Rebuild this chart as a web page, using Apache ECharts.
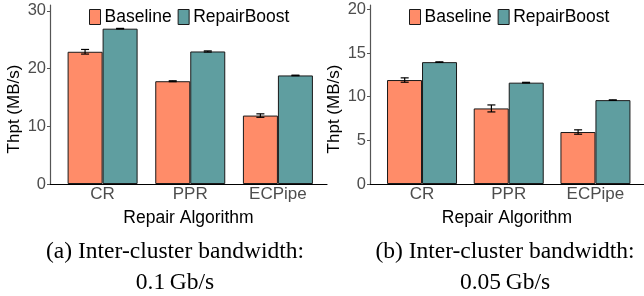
<!DOCTYPE html>
<html>
<head>
<meta charset="utf-8">
<script src="https://cdn.jsdelivr.net/npm/echarts@6/dist/echarts.min.js"></script>
<style>
  html, body { margin: 0; padding: 0; background: #fff; }
  #chart { width: 644px; height: 296px; }
</style>
</head>
<body>
<div id="chart"></div>
<script>
const categories = ['CR', 'PPR', 'ECPipe']
const seriesNames = ['Baseline', 'RepairBoost']

// (a) 0.1 Gb/s
const baselineA = [22.9, 17.8, 11.85]
const baselineAErr = [0.4, 0.08, 0.3]
const boostA = [26.9, 22.95, 18.8]
const boostAErr = [0.05, 0.1, 0.05]
const ticksA = [0, 10, 20, 30]

// (b) 0.05 Gb/s
const baselineB = [11.9, 8.65, 5.95]
const baselineBErr = [0.25, 0.4, 0.25]
const boostB = [13.95, 11.6, 9.6]
const boostBErr = [0.03, 0.04, 0.03]
const ticksB = [0, 5, 10, 15, 20]

const captions = ['(a) Inter-cluster bandwidth:\n0.1\u2009Gb/s', '(b) Inter-cluster bandwidth:\n0.05\u2009Gb/s']

const colors = ['#FF8C69', '#5F9EA0']
const sans = '"Liberation Sans", Arial, sans-serif'

const toPoints = vals => vals.map((v, i) => [i + 1, v])
const toErr = (vals, errs) => vals.map((v, i) => [i + 1, v - errs[i], v + errs[i]])

function errorBar (shift) {
  return function (params, api) {
    const x = api.value(0) + shift
    const lo = api.coord([x, api.value(1)])
    const hi = api.coord([x, api.value(2)])
    const w = 4
    const style = { stroke: '#000', lineWidth: 1.2 }
    return {
      type: 'group',
      children: [
        { type: 'line', shape: { x1: lo[0], y1: lo[1], x2: hi[0], y2: hi[1] }, style },
        { type: 'line', shape: { x1: lo[0] - w, y1: lo[1], x2: lo[0] + w, y2: lo[1] }, style },
        { type: 'line', shape: { x1: hi[0] - w, y1: hi[1], x2: hi[0] + w, y2: hi[1] }, style }
      ]
    }
  }
}

const panels = [
  { left: 50, base: baselineA, baseErr: baselineAErr, boost: boostA, boostErr: boostAErr, ticks: ticksA, max: 31 },
  { left: 370, base: baselineB, baseErr: baselineBErr, boost: boostB, boostErr: boostBErr, ticks: ticksB, max: 20.49 }
]

const grid = []
const xAxis = []
const yAxis = []
const series = []
const legend = []
const title = []
const graphic = []

panels.forEach((p, k) => {
  grid.push({ left: p.left, top: 5, width: 277, height: 179 })
  xAxis.push({
    type: 'value',
    gridIndex: k,
    min: 0.4,
    max: 3.56,
    name: 'Repair Algorithm',
    nameLocation: 'middle',
    nameGap: 25,
    nameTextStyle: { color: '#000', fontSize: 17.5, fontFamily: sans },
    axisLine: { onZero: false, lineStyle: { color: '#000', width: 1.2 } },
    axisTick: { show: false },
    splitLine: { show: false },
    axisLabel: {
      customValues: [1, 2, 3],
      formatter: v => categories[Math.round(v) - 1],
      color: '#4D4D4D',
      fontSize: 17,
      fontFamily: sans,
      margin: 2
    }
  })
  yAxis.push({
    type: 'value',
    gridIndex: k,
    min: 0,
    max: p.max,
    axisLine: { show: true, lineStyle: { color: '#555', width: 1.2 } },
    axisTick: { show: true, length: 3, customValues: p.ticks, lineStyle: { color: '#555' } },
    splitLine: { show: false },
    axisLabel: {
      customValues: p.ticks,
      color: '#4D4D4D',
      fontSize: 16.5,
      fontFamily: sans,
      margin: 4
    }
  })
  series.push({
    name: seriesNames[0],
    type: 'bar',
    xAxisIndex: k,
    yAxisIndex: k,
    barWidth: 35,
    barGap: '0%',
    itemStyle: { color: colors[0], borderColor: '#1a1a1a', borderWidth: 1 },
    data: toPoints(p.base)
  })
  series.push({
    name: seriesNames[1],
    type: 'bar',
    xAxisIndex: k,
    yAxisIndex: k,
    barWidth: 35,
    barGap: '0%',
    itemStyle: { color: colors[1], borderColor: '#1a1a1a', borderWidth: 1 },
    data: toPoints(p.boost)
  })
  series.push({
    type: 'custom',
    xAxisIndex: k,
    yAxisIndex: k,
    renderItem: errorBar(-0.2),
    encode: { x: 0, y: [1, 2] },
    z: 5,
    data: toErr(p.base, p.baseErr)
  })
  series.push({
    type: 'custom',
    xAxisIndex: k,
    yAxisIndex: k,
    renderItem: errorBar(0.2),
    encode: { x: 0, y: [1, 2] },
    z: 5,
    data: toErr(p.boost, p.boostErr)
  })
  legend.push({
    left: p.left + 39,
    top: 8,
    itemWidth: 11,
    itemHeight: 15,
    itemGap: 6,
    padding: 0,
    icon: 'rect',
    data: seriesNames.map((n, i) => ({ name: n, itemStyle: { color: colors[i], borderColor: '#1a1a1a', borderWidth: 1 } })),
    textStyle: { color: '#000', fontSize: 17.5, fontFamily: sans, padding: [0, 0, 0, -1] }
  })
  title.push({
    text: captions[k],
    left: k === 0 ? 175 : 505,
    top: 236,
    textAlign: 'center',
    padding: 0,
    textStyle: {
      color: '#000',
      fontSize: 23.5,
      fontWeight: 'normal',
      fontFamily: '"Liberation Serif", "Times New Roman", serif',
      lineHeight: 31
    }
  })
  graphic.push({
    type: 'text',
    x: p.left - 36,
    y: 109,
    rotation: Math.PI / 2,
    style: {
      text: 'Thpt (MB/s)',
      fill: '#000',
      font: '17px "Liberation Sans", Arial, sans-serif',
      align: 'center',
      verticalAlign: 'middle'
    }
  })
})

const dom = echarts.init(document.getElementById('chart'))
dom.setOption({
  animation: false,
  title,
  legend,
  grid,
  xAxis,
  yAxis,
  series,
  graphic
})
</script>
</body>
</html>
